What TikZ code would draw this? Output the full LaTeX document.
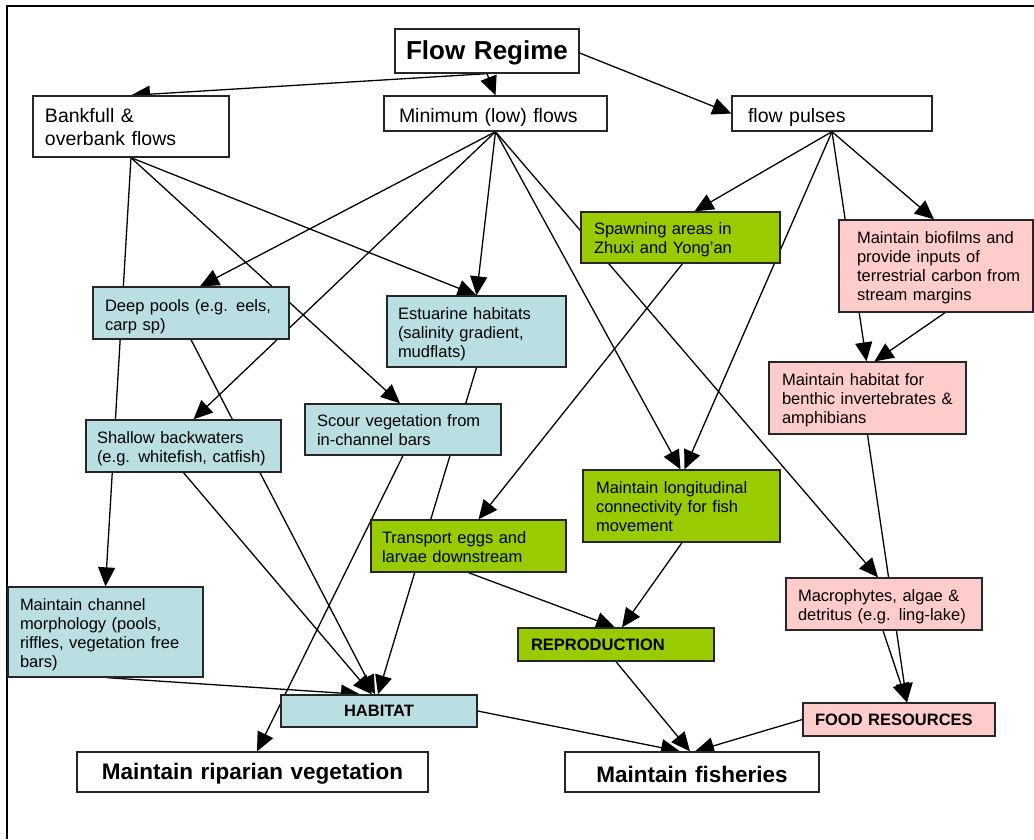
\documentclass[tikz,border=0pt]{standalone}
\usepackage{fontspec}
\setmainfont{Liberation Sans}
\usetikzlibrary{arrows.meta,calc}
\pgfdeclarelayer{bg}
\pgfsetlayers{bg,main}
\definecolor{boxblue}{RGB}{185,223,227}
\definecolor{boxgreen}{RGB}{153,204,0}
\definecolor{boxpink}{RGB}{255,204,204}
\newcommand{\tx}[2][3pt]{\raisebox{-#1}[\height][\depth]{\begin{tabular}{@{}l@{}}#2\end{tabular}}}
\tikzset{
  bx/.style={draw=black!85, line width=1.3pt, inner ysep=0pt, align=left, text=black},
  bigbox/.style={bx, fill=white, font=\fontsize{19.5}{23}\selectfont},
  smallbox/.style={bx, font=\fontsize{16.5}{19}\selectfont},
  boldbox/.style={bx, font=\bfseries\fontsize{16.5}{19}\selectfont},
  titlebox/.style={bx, fill=white, align=center, font=\bfseries\fontsize{22.5}{26}\selectfont},
  bluebox/.style={smallbox, fill=boxblue},
  greenbox/.style={smallbox, fill=boxgreen},
  pinkbox/.style={smallbox, fill=boxpink},
  arr/.style={-{Triangle[length=19pt,width=17pt]}, line width=1.3pt, draw=black},
  frameline/.style={line width=1.3pt, draw=black}
}
\begin{document}
\begin{tikzpicture}[x=1pt,y=-1pt]
\useasboundingbox (0,0) rectangle (1034,839);

% nodes
\node[bx, fill=white, align=center, minimum width=184pt, minimum height=44pt, inner xsep=7pt, text width=170pt, font=\bfseries\fontsize{26}{30}\selectfont] (fr) at (487,51) {\raisebox{-2pt}[\height][\depth]{Flow Regime}};

\node[bigbox, minimum width=196pt, minimum height=61pt, inner xsep=12pt, text width=172pt] (bank) at (131,126.5) {\tx[3pt]{Bankfull \&\\overbank flows}};
\node[bigbox, minimum width=223pt, minimum height=35pt, inner xsep=15pt, text width=193pt] (min) at (495.5,113.5) {\tx[4pt]{Minimum (low) flows}};
\node[bigbox, minimum width=200pt, minimum height=35pt, inner xsep=16pt, text width=168pt] (fp) at (832,113.5) {\tx[4pt]{flow pulses}};

\node[greenbox, minimum width=199pt, minimum height=51pt, inner xsep=13pt, text width=173pt] (spawn) at (680.5,237.5) {\tx{Spawning areas in\\Zhuxi and Yong’an}};
\node[pinkbox, minimum width=194pt, minimum height=92pt, inner xsep=18pt, text width=158pt] (bio) at (936,266) {\tx[2pt]{Maintain biofilms and\\provide inputs of\\terrestrial carbon from\\stream margins}};

\node[bluebox, minimum width=196pt, minimum height=52pt, inner xsep=12pt, text width=172pt] (deep) at (191,313) {\tx[4pt]{Deep pools (e.g. eels,\\carp sp)}};
\node[bluebox, minimum width=179pt, minimum height=71pt, inner xsep=11pt, text width=157pt] (est) at (476.5,331.5) {\tx{Estuarine habitats\\(salinity gradient,\\mudflats)}};
\node[bluebox, minimum width=196pt, minimum height=51pt, inner xsep=12pt, text width=172pt] (scour) at (403,429.5) {\tx{Scour vegetation from\\in-channel bars}};
\node[bluebox, minimum width=195pt, minimum height=52pt, inner xsep=11pt, text width=173pt] (shallow) at (183.5,446) {\tx{Shallow backwaters\\(e.g. whitefish, catfish)}};

\node[pinkbox, minimum width=197pt, minimum height=72pt, inner xsep=13pt, text width=171pt] (benthic) at (867.5,398) {\tx{Maintain habitat for\\benthic invertebrates \&\\amphibians}};
\node[greenbox, minimum width=197pt, minimum height=72pt, inner xsep=13pt, text width=171pt] (longit) at (681.5,506) {\tx{Maintain longitudinal\\connectivity for fish\\movement}};
\node[greenbox, minimum width=195pt, minimum height=52pt, inner xsep=11pt, text width=173pt] (transport) at (468.5,546) {\tx{Transport eggs and\\larvae downstream}};
\node[pinkbox, minimum width=196pt, minimum height=52pt, inner xsep=12pt, text width=172pt] (macro) at (884,604) {\tx{Macrophytes, algae \&\\detritus (e.g. ling-lake)}};
\node[bluebox, minimum width=195pt, minimum height=90pt, inner xsep=12pt, text width=171pt] (mcm) at (105.5,632) {\tx{Maintain channel\\morphology (pools,\\riffles, vegetation free\\bars)}};

\node[boldbox, fill=boxgreen, minimum width=196pt, minimum height=33pt, inner xsep=13pt, text width=170pt] (repro) at (616,644.5) {REPRODUCTION};
\node[boldbox, fill=boxblue, align=center, minimum width=196pt, minimum height=32pt, inner xsep=10pt, text width=176pt] (habitat) at (379,711) {HABITAT};
\node[boldbox, fill=boxpink, minimum width=192pt, minimum height=33pt, inner xsep=12pt, text width=168pt] (food) at (899,719.5) {\mbox{FOOD RESOURCES}};

\node[titlebox, minimum width=351pt, minimum height=40pt, inner xsep=10pt, text width=331pt] (rip) at (252.5,772) {\raisebox{-2pt}[\height][\depth]{Maintain riparian vegetation}};
\node[titlebox, minimum width=254pt, minimum height=40pt, inner xsep=10pt, text width=234pt] (fish) at (692,772) {\raisebox{-2pt}[\height][\depth]{Maintain fisheries}};

% connectors and frame
\begin{pgfonlayer}{bg}
\draw[frameline] (7,839) -- (7,6) -- (1034,6);

\draw[arr] (fr.south) -- (bank.north);
\draw[arr] (fr.south) -- (min.north);
\draw[arr] ([yshift=-2pt]fr.east) -- (fp.west);

\draw[arr] (bank.south) -- (mcm.north);
\draw[arr] (bank.south) -- ([xshift=-3pt]scour.north);
\draw[arr] (bank.south) -- (est.north);

\draw[arr] (min.south) -- ([xshift=9pt]deep.north);
\draw[arr] (min.south) -- ([xshift=10pt]shallow.north);
\draw[arr] (min.south) -- (est.north);
\draw[arr] (min.south) -- ([xshift=-1pt]longit.north);
\draw[arr] (min.south) -- ([xshift=-6pt]macro.north);

\draw[arr] (fp.south) -- ([xshift=14pt]spawn.north);
\draw[arr] (fp.south) -- ([xshift=-2pt]bio.north);
\draw[arr] (fp.south) -- ([xshift=3pt]longit.north);
\draw[arr] (fp.south) -- ([xshift=-1pt]benthic.north);
\draw[arr] ([xshift=9pt]bio.south) -- ([xshift=7pt]benthic.north);

\draw[arr] ([xshift=2pt]spawn.south) -- ([xshift=10pt]transport.north);

\draw[arr] (deep.south) -- ([xshift=-4pt]habitat.north);
\draw[arr] (shallow.south) -- ([xshift=-7pt]habitat.north);
\draw[arr] (est.south) -- ([xshift=-1pt]habitat.north);
\draw[arr] (scour.south) -- ([xshift=4.5pt]rip.north);
\draw[arr] ([xshift=1.5pt]mcm.south) -- ([xshift=-19pt]habitat.north);

\draw[arr] (habitat.east) -- ([xshift=-12pt]fish.north);
\draw[arr] (repro.south) -- ([xshift=-2pt]fish.north);
\draw[arr] (food.west) -- ([xshift=3pt]fish.north);

\draw[arr] (transport.south) -- ([xshift=-1pt]repro.north);
\draw[arr] ([xshift=0.5pt]longit.south) -- ([xshift=6pt]repro.north);

\draw[arr] (benthic.south) -- ([xshift=8pt]food.north);
\draw[arr] ([xshift=-1pt]macro.south) -- ([xshift=8pt]food.north);
\end{pgfonlayer}
\end{tikzpicture}
\end{document}
